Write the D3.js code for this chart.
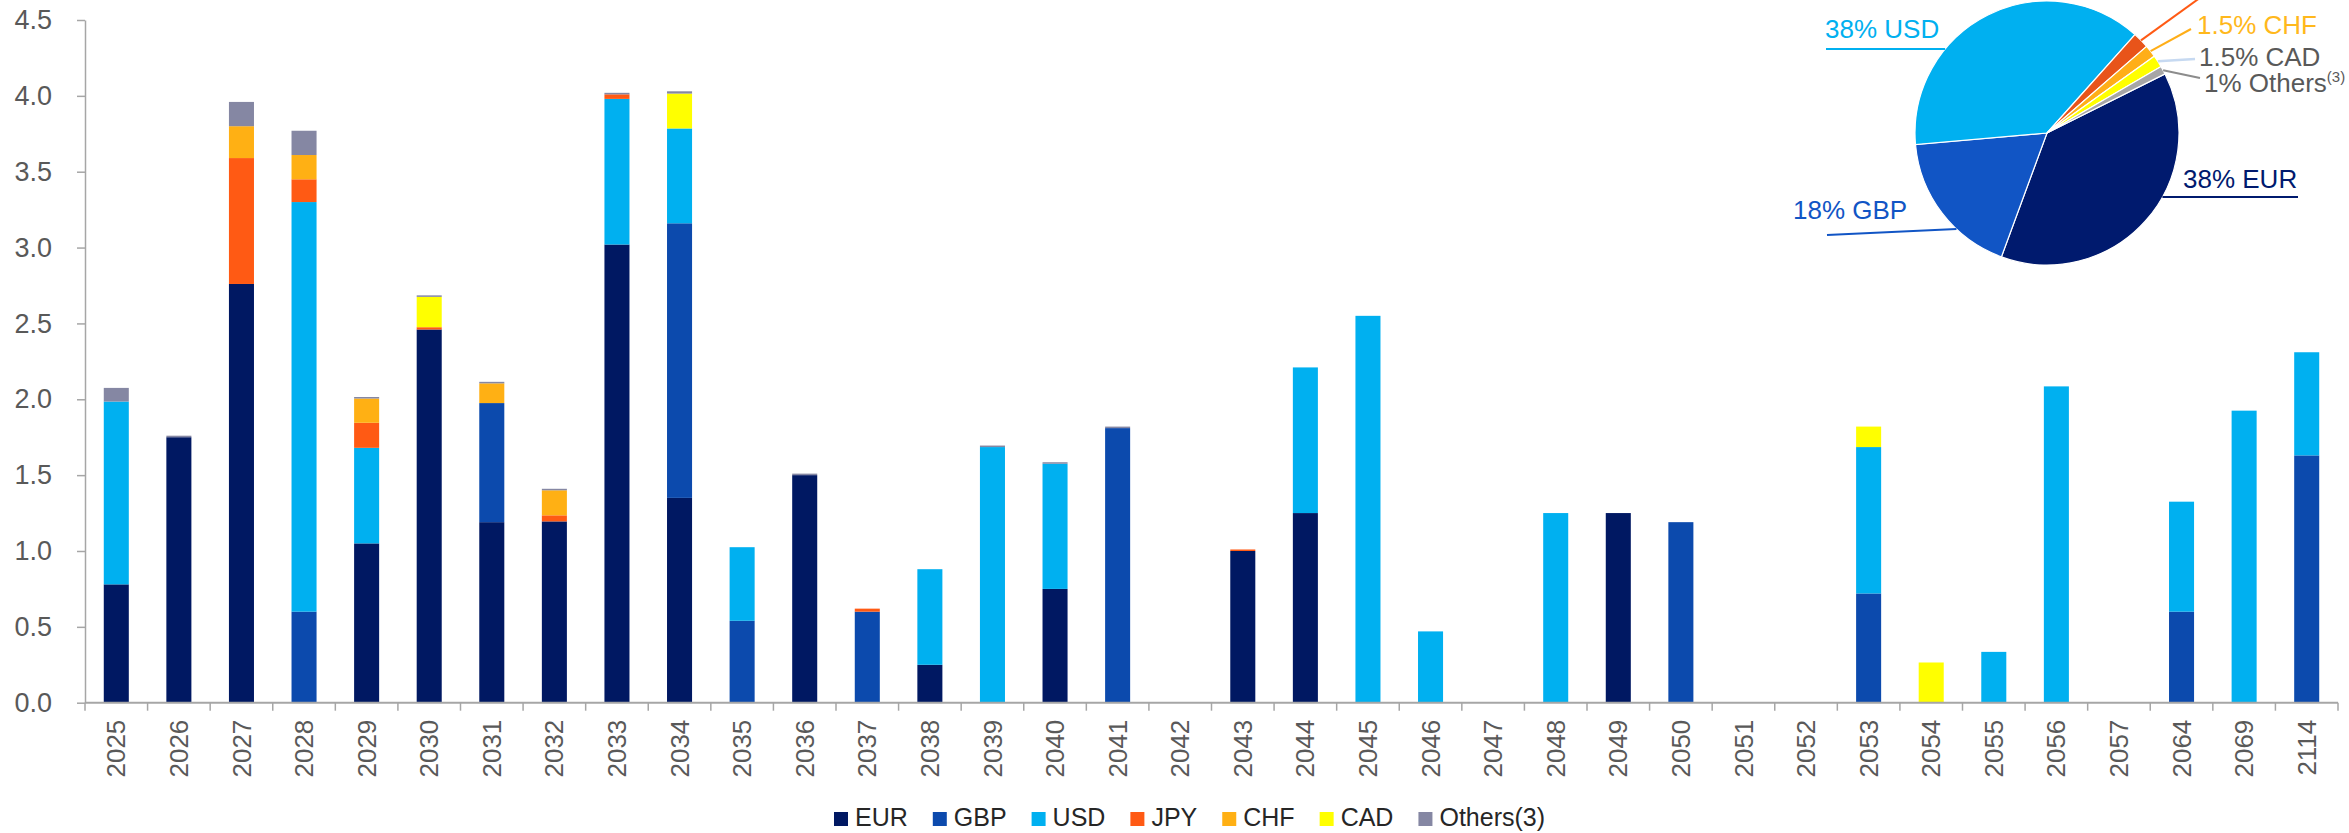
<!DOCTYPE html>
<html>
<head>
<meta charset="utf-8">
<script src="https://cdn.jsdelivr.net/npm/d3@7"></script>
<style>
  html, body { margin: 0; padding: 0; background: #ffffff; }
  svg { display: block; font-family: "Liberation Sans", Arial, sans-serif; }
</style>
</head>
<body>
<svg id="chart" width="2349" height="833"></svg>
<script>
// Maturity years shown on the x axis
const categories = ['2025','2026','2027','2028','2029','2030','2031','2032','2033','2034',
  '2035','2036','2037','2038','2039','2040','2041','2042','2043','2044',
  '2045','2046','2047','2048','2049','2050','2051','2052','2053','2054',
  '2055','2056','2057','2064','2069','2114'];

// Redemptions per currency for each year
const EUR = [0.78,1.75,2.76,0,1.05,2.46,1.19,1.195,3.02,1.35,
  0,1.50,0,0.25,0,0.75,0,0,1.00,1.25,
  0,0,0,0,1.25,0,0,0,0,0,
  0,0,0,0,0,0];
const GBP = [0,0,0,0.60,0,0,0.785,0,0,1.81,
  0.54,0,0.60,0,0,0,1.81,0,0,0,
  0,0,0,0,0,1.19,0,0,0.72,0,
  0,0,0,0.60,0,1.63];
const USD = [1.205,0,0,2.70,0.63,0,0,0,0.96,0.625,
  0.485,0,0,0.63,1.685,0.825,0,0,0,0.96,
  2.55,0.47,0,1.25,0,0,0,0,0.965,0,
  0.335,2.085,0,0.725,1.925,0.68];
const JPY = [0,0,0.83,0.15,0.165,0.015,0,0.04,0.03,0,
  0,0,0.02,0,0,0,0,0,0.01,0,
  0,0,0,0,0,0,0,0,0,0,
  0,0,0,0,0,0];
const CHF = [0,0,0.21,0.16,0.16,0,0.13,0.165,0,0,
  0,0,0,0,0,0,0,0,0,0,
  0,0,0,0,0,0,0,0,0,0,
  0,0,0,0,0,0];
const CAD = [0,0,0,0,0,0.20,0,0,0,0.23,
  0,0,0,0,0,0,0,0,0,0,
  0,0,0,0,0,0,0,0,0.135,0.265,
  0,0,0,0,0,0];
const OTHERS = [0.09,0.01,0.16,0.16,0.01,0.01,0.01,0.01,0.01,0.015,
  0,0.01,0,0,0.01,0.01,0.01,0,0,0,
  0,0,0,0,0,0,0,0,0,0,
  0,0,0,0,0,0];

const seriesNames = ['EUR','GBP','USD','JPY','CHF','CAD','Others(3)'];
const seriesValues = [EUR, GBP, USD, JPY, CHF, CAD, OTHERS];
const seriesColors = ['#001862','#0c4aad','#00b0f0','#ff5a14','#ffb014','#ffff00','#8587a3'];

const yTicks = [0,0.5,1,1.5,2,2.5,3,3.5,4,4.5];

// Currency split of the whole debt stock
const pieNames = ['EUR','GBP','USD','JPY','CHF','CAD','Others'];
const pieShares = [38, 18, 38, 2, 1.5, 1.5, 1];
const pieColors = ['#001a6e','#1155c5','#00b0f0','#e8541a','#ffae18','#ffff00','#a6a6a6'];

const svg = d3.select('#chart');
const axisColor = '#a6a6a6';
const textColor = '#595959';

const plot = { left: 85, right: 2338, top: 20, bottom: 702.7 };

const x = d3.scaleBand()
  .domain(categories)
  .range([plot.left, plot.right])
  .paddingInner(0.6)
  .paddingOuter(0.3);

const y = d3.scaleLinear().domain([0, 4.5]).range([plot.bottom, plot.top]);

// stacked data
const table = categories.map((c, i) => {
  const row = { year: c };
  seriesNames.forEach((s, k) => { row[s] = seriesValues[k][i]; });
  return row;
});
const stacked = d3.stack().keys(seriesNames)(table);

const barsG = svg.append('g');
barsG.selectAll('g.series')
  .data(stacked)
  .join('g')
  .attr('class', 'series')
  .attr('fill', (d, k) => seriesColors[k])
  .selectAll('rect')
  .data(d => d.filter(p => p[1] - p[0] > 0))
  .join('rect')
  .attr('x', d => x(d.data.year))
  .attr('width', x.bandwidth())
  .attr('y', d => y(d[1]))
  .attr('height', d => y(d[0]) - y(d[1]));

// y axis
const yAxis = svg.append('g')
  .attr('transform', `translate(${plot.left},0)`)
  .call(d3.axisLeft(y).tickValues(yTicks).tickFormat(d3.format('.1f'))
    .tickSize(8).tickSizeOuter(0).tickPadding(25));
yAxis.select('.domain').attr('stroke', axisColor).attr('stroke-width', 1.5);
yAxis.selectAll('.tick line').attr('stroke', axisColor).attr('stroke-width', 1.5);
yAxis.selectAll('.tick text')
  .attr('fill', textColor)
  .attr('font-size', 27)
  .attr('font-family', '"Liberation Sans", Arial, sans-serif');

// x axis: baseline, ticks between categories, rotated year labels
const xAxis = svg.append('g');
xAxis.append('line')
  .attr('x1', plot.left).attr('x2', plot.right)
  .attr('y1', y(0)).attr('y2', y(0))
  .attr('stroke', axisColor).attr('stroke-width', 2);
const step = x.step();
const boundaries = categories.map(c => x(c) + x.bandwidth() / 2 - step / 2)
  .concat([x(categories[categories.length - 1]) + x.bandwidth() / 2 + step / 2]);
xAxis.selectAll('line.tick')
  .data(boundaries)
  .join('line')
  .attr('class', 'tick')
  .attr('x1', d => d).attr('x2', d => d)
  .attr('y1', y(0)).attr('y2', y(0) + 8)
  .attr('stroke', axisColor).attr('stroke-width', 1.5);
xAxis.selectAll('text')
  .data(categories)
  .join('text')
  .attr('transform', d => `translate(${x(d) + x.bandwidth() / 2},${y(0) + 17}) rotate(-90)`)
  .attr('text-anchor', 'end')
  .attr('dy', '0.35em')
  .attr('fill', textColor)
  .attr('font-size', 26)
  .text(d => d);

// legend
const legend = svg.append('g').attr('transform', 'translate(834,0)');
let cursor = 0;
seriesNames.forEach((name, k) => {
  const item = legend.append('g').attr('transform', `translate(${cursor},0)`);
  item.append('rect')
    .attr('x', 0).attr('y', 812)
    .attr('width', 14).attr('height', 14)
    .attr('fill', seriesColors[k]);
  const t = item.append('text')
    .attr('x', 21).attr('y', 826)
    .attr('fill', '#262626')
    .attr('font-size', 25)
    .text(name);
  cursor += 21 + t.node().getComputedTextLength() + 25;
});

// pie of currency shares
const pieCx = 2047, pieCy = 133, pieR = 132;
const deg = Math.PI / 180;
const start = 63.4 * deg;
const pie = d3.pie().sort(null).value(d => d)
  .startAngle(start).endAngle(start + 2 * Math.PI);
const arcs = pie(pieShares);
const arc = d3.arc().innerRadius(0).outerRadius(pieR);
const pieG = svg.append('g').attr('transform', `translate(${pieCx},${pieCy})`);
pieG.selectAll('path')
  .data(arcs)
  .join('path')
  .attr('d', arc)
  .attr('fill', (d, i) => pieColors[i])
  .attr('stroke', '#ffffff')
  .attr('stroke-width', 1.2);

// point on the pie rim at a given angle (d3 convention: 0 = 12 o'clock, clockwise)
function rim(angleDeg, r = pieR) {
  const a = angleDeg * deg;
  return [pieCx + r * Math.sin(a), pieCy - r * Math.cos(a)];
}
function midDeg(i) { return (arcs[i].startAngle + arcs[i].endAngle) / 2 / deg; }

// leader lines
const leaders = [
  { pts: [[1826, 49], rim(309.5)], color: '#00b0f0', w: 2 },
  { pts: [[1827, 235], rim(223.3)], color: '#1155c5', w: 2 },
  { pts: [[2298, 197], rim(119)], color: '#001a6e', w: 2 },
  { pts: [rim(midDeg(3)), [2215, -13]], color: '#ff5a14', w: 2 },
  { pts: [rim(midDeg(4)), [2191, 29]], color: '#ffae18', w: 2 },
  { pts: [rim(midDeg(5)), [2195, 59]], color: '#c6d9f1', w: 2.5 },
  { pts: [rim(midDeg(6)), [2200, 78]], color: '#8c8c8c', w: 2 }
];
svg.append('g').selectAll('path')
  .data(leaders)
  .join('path')
  .attr('d', d => d3.line()(d.pts))
  .attr('fill', 'none')
  .attr('stroke', d => d.color)
  .attr('stroke-width', d => d.w);

// pie labels
const pieLabels = [
  { text: `${pieShares[2]}% ${pieNames[2]}`, x: 1825, y: 38, color: '#00b0f0' },
  { text: `${pieShares[1]}% ${pieNames[1]}`, x: 1793, y: 219, color: '#1155c5' },
  { text: `${pieShares[0]}% ${pieNames[0]}`, x: 2183, y: 188, color: '#001a6e' },
  { text: `${pieShares[4]}% ${pieNames[4]}`, x: 2197, y: 33.5, color: '#ffb81c' },
  { text: `${pieShares[5]}% ${pieNames[5]}`, x: 2199, y: 65.5, color: textColor }
];
svg.append('g').selectAll('text')
  .data(pieLabels)
  .join('text')
  .attr('x', d => d.x).attr('y', d => d.y)
  .attr('fill', d => d.color)
  .attr('font-size', 26)
  .text(d => d.text);

const othersLabel = svg.append('text')
  .attr('x', 2204).attr('y', 91.5)
  .attr('fill', textColor)
  .attr('font-size', 26);
othersLabel.append('tspan').text(`${pieShares[6]}% ${pieNames[6]}`);
othersLabel.append('tspan').attr('font-size', 15).attr('dy', -10).text('(3)');
</script>
</body>
</html>
